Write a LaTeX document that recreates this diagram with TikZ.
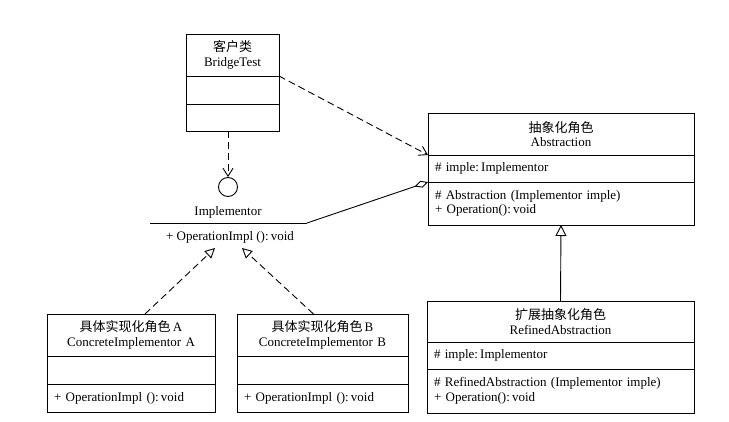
\documentclass[tikz,border=0pt]{standalone}
\usepackage{fontspec}
\setmainfont{Liberation Serif}
\newfontfamily\cjk{Noto Sans CJK SC}
\usetikzlibrary{arrows.meta,positioning}

\begin{document}
\begin{tikzpicture}[x=1pt,y=-1pt,font=\fontsize{13}{14.5}\selectfont,
  part/.style 2 args={draw,line width=0.9pt,outer sep=0pt,inner xsep=7pt,inner ysep=0pt,
    text width=#1,minimum height=#2,align=left,anchor=north west},
  title/.style={align=center},
  dep/.style={line width=0.9pt,dash pattern=on 7pt off 4pt,-{Straight Barb[length=8pt,width=10pt]}},
  real/.style={line width=0.9pt,dash pattern=on 7pt off 4pt,-{Triangle[open,length=10pt,width=10pt]}},
  gen/.style={line width=0.9pt,-{Triangle[open,length=11pt,width=11pt]}},
  agg/.style={line width=0.9pt,-{Diamond[open,length=14pt,width=7pt]}}]

\useasboundingbox (0,0) rectangle (729,422);

%client class
\node[part={79pt}{42pt},title] (client) at (186,34) {{\cjk 客户类}\\BridgeTest};
\node[part={79pt}{28pt},below=0pt of client] (clientAttr) {};
\node[part={79pt}{27pt},below=0pt of clientAttr] (clientOps) {};

%abstraction class
\node[part={252pt}{42pt},title] (abstr) at (428,113) {{\cjk 抽象化角色}\\Abstraction};
\node[part={252pt}{27pt},below=0pt of abstr] (abstrAttr) {\# imple:\,Implementor};
\node[part={252pt}{43pt},below=0pt of abstrAttr] (abstrOps) {\# Abstraction (Implementor imple)\\+ Operation():\,void};

%refined abstraction class
\node[part={253pt}{41pt},title] (refined) at (427,301) {{\cjk 扩展抽象化角色}\\RefinedAbstraction};
\node[part={253pt}{27pt},below=0pt of refined] (refinedAttr) {\# imple:\,Implementor};
\node[part={253pt}{44pt},below=0pt of refinedAttr] (refinedOps) {\# RefinedAbstraction (Implementor imple)\\+ Operation():\,void};

%concrete implementors
\node[part={154pt}{42pt},title] (implA) at (47,314) {{\cjk 具体实现化角色}\,A\\ConcreteImplementor A};
\node[part={154pt}{28pt},below=0pt of implA] (implAAttr) {};
\node[part={154pt}{28pt},below=0pt of implAAttr] (implAOps) {+ OperationImpl ():\,void};
\node[part={157pt}{42pt},title] (implB) at (237,314) {{\cjk 具体实现化角色}\,B\\ConcreteImplementor B};
\node[part={157pt}{28pt},below=0pt of implB] (implBAttr) {};
\node[part={157pt}{28pt},below=0pt of implBAttr] (implBOps) {+ OperationImpl ():\,void};

%interface (lollipop)
\node[draw,circle,line width=0.9pt,minimum size=19pt,inner sep=0pt] (iface) at (228,187) {};
\node (ifaceName) at (228,212) {Implementor};
\node (ifaceOps) at (230,237) {+ OperationImpl ():\,void};
\coordinate (ifaceL) at (150,223);
\coordinate (ifaceR) at (307,223);
\coordinate (ifaceA) at (215,248);
\coordinate (ifaceB) at (242,248);
\draw[line width=0.9pt] (ifaceL) -- (ifaceR);

%connectors
\draw[dep] (iface.north |- clientOps.south) -- (iface.north);
\draw[dep] (client.south east) -- (abstr.south west);
\draw[agg] (ifaceR) -- (abstrAttr.south west);
\draw[gen] (refined.north) -- (abstrOps.south);
\draw[real] ([xshift=14pt]implA.north) -- (ifaceA);
\draw[real] ([xshift=-9pt]implB.north) -- (ifaceB);
\end{tikzpicture}
\end{document}
